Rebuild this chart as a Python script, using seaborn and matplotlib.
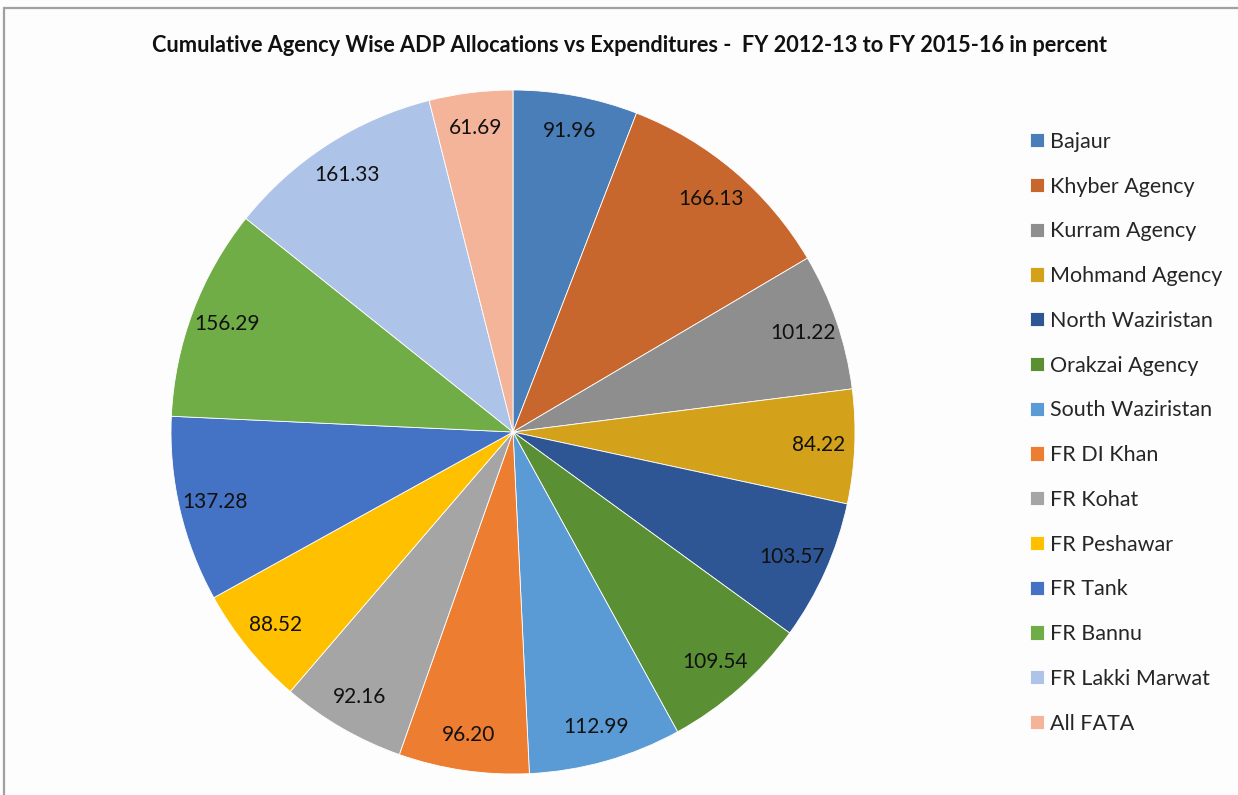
import matplotlib
matplotlib.use("Agg")
import matplotlib.pyplot as plt
import matplotlib.patches as mpatches
import seaborn as sns

# Agency-wise cumulative ADP utilisation, FY 2012-13 to FY 2015-16 (percent)
agencies = [
    "Bajaur", "Khyber Agency", "Kurram Agency", "Mohmand Agency",
    "North Waziristan", "Orakzai Agency", "South Waziristan", "FR DI Khan",
    "FR Kohat", "FR Peshawar", "FR Tank", "FR Bannu", "FR Lakki Marwat",
    "All FATA",
]
values = [91.96, 166.13, 101.22, 84.22, 103.57, 109.54, 112.99, 96.20,
          92.16, 88.52, 137.28, 156.29, 161.33, 61.69]
colors = [
    "#4A7EB8", "#C8672D", "#8E8E8E", "#D4A11A", "#2E5594", "#5A8F33",
    "#5B9BD5", "#ED7D31", "#A5A5A5", "#FFC000", "#4472C4", "#70AD47",
    "#AEC3E8", "#F4B49A",
]
title = "Cumulative Agency Wise ADP Allocations vs Expenditures -  FY 2012-13 to FY 2015-16 in percent"

sns.set_theme(style="white")
plt.rcParams["font.family"] = ["Lato", "DejaVu Sans"]

W, H = 1238, 795
fig = plt.figure(figsize=(W / 100, H / 100), dpi=100)
fig.patch.set_facecolor("#FDFDFD")

# chart frame (left and top edges visible)
frame = mpatches.Rectangle((4 / W, -0.2), 2.0, (H - 8) / H + 0.2,
                           transform=fig.transFigure, fill=False,
                           edgecolor="#A0A0A0", linewidth=1.6)
fig.patches.append(frame)

cx, cy, r = 513, 432, 342
ax = fig.add_axes([(cx - r) / W, (H - cy - r) / H, 2 * r / W, 2 * r / H])
ax.set_facecolor("none")

total = sum(values)
wedges, texts, autotexts = ax.pie(
    values, colors=colors, startangle=90, counterclock=False,
    autopct=lambda p: f"{p * total / 100:.2f}", pctdistance=0.895,
    wedgeprops=dict(edgecolor="white", linewidth=0.6),
    textprops=dict(fontsize=15, color="#111111"),
)
ax.set_xlim(-1, 1)
ax.set_ylim(-1, 1)
ax.set_aspect("equal")
ax.axis("off")

fig.text(0.5 + 10 / W, (H - 45) / H, title, ha="center", va="center",
         fontsize=15.7, fontweight="bold", color="#111111")

fig.legend(wedges, agencies, loc="upper left",
           bbox_to_anchor=(1019 / W, (H - 121) / H), frameon=False,
           fontsize=15.5, handlelength=0.65, handleheight=0.65,
           handletextpad=0.3, labelspacing=1.15, borderpad=0)

fig.savefig("out.png", dpi=100, facecolor=fig.get_facecolor())
